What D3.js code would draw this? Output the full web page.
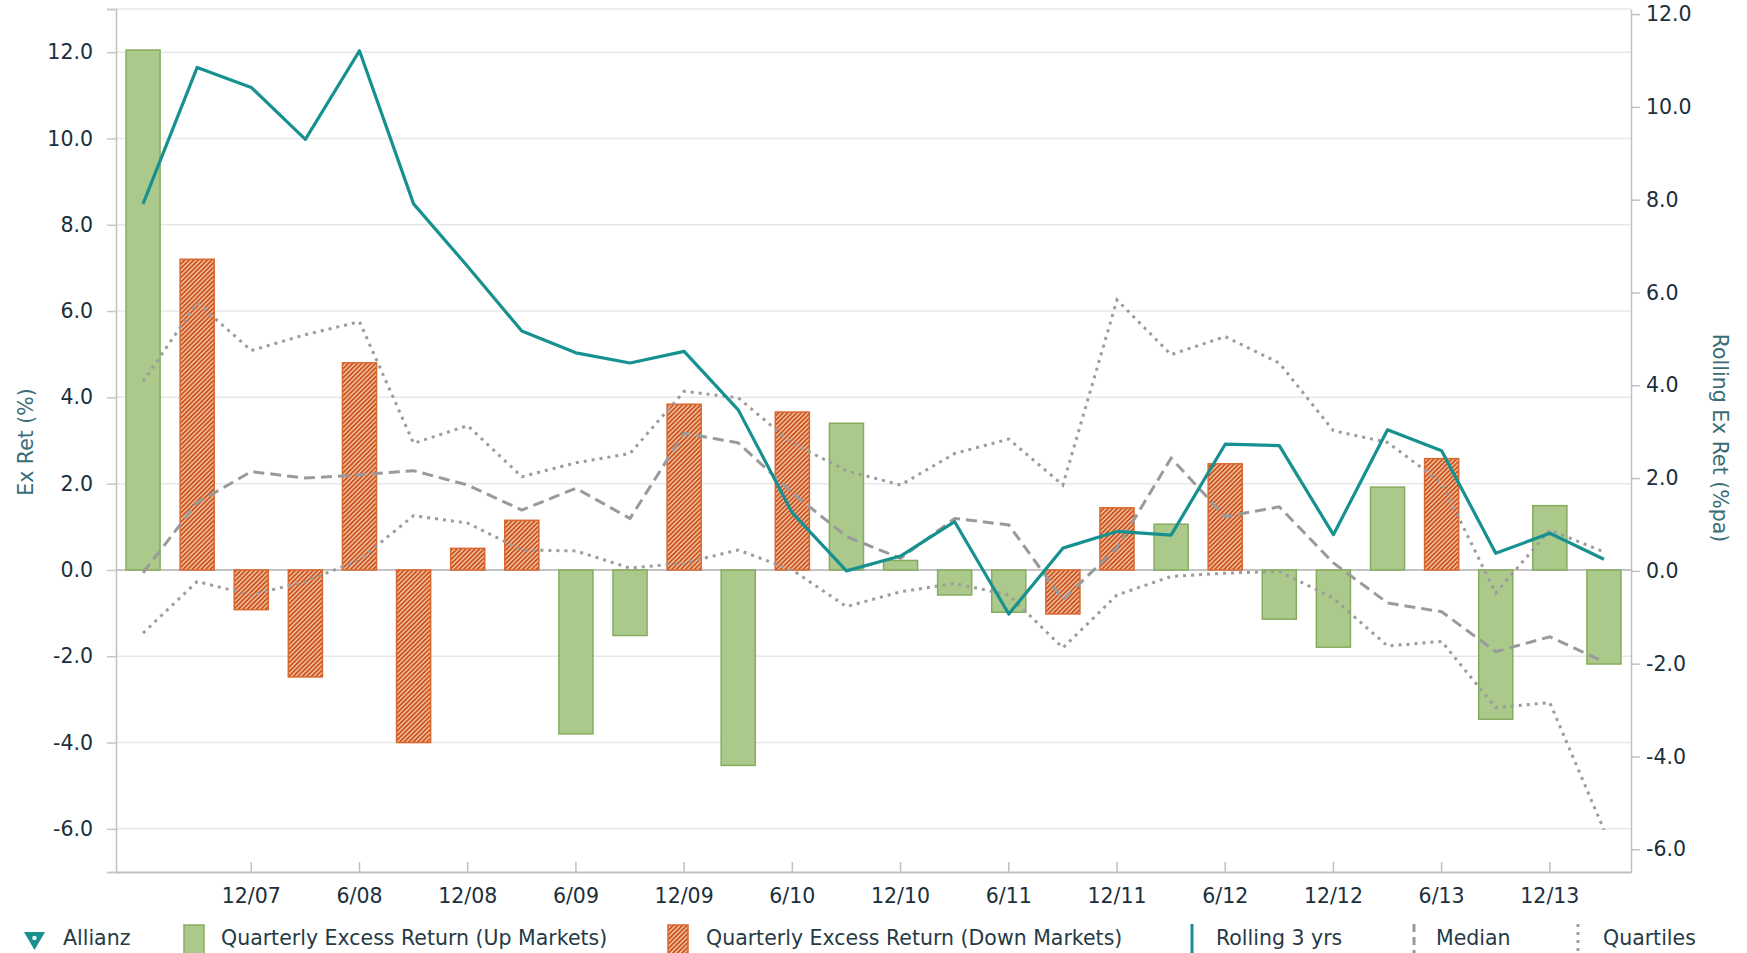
<!DOCTYPE html>
<html>
<head>
<meta charset="utf-8">
<script src="https://cdn.jsdelivr.net/npm/d3@7"></script>
<style>
  body { margin: 0; background: #fff; }
  text { font-family: "DejaVu Sans", Verdana, sans-serif; }
</style>
</head>
<body>
<div id="chart"></div>
<script>
// quarters shown on the x axis (only Dec / Jun get a label)
const quarters = ["6/07","9/07","12/07","3/08","6/08","9/08","12/08","3/09","6/09","9/09",
  "12/09","3/10","6/10","9/10","12/10","3/11","6/11","9/11","12/11","3/12",
  "6/12","9/12","12/12","3/13","6/13","9/13","12/13","3/14"];
const xTickLabels = ["12/07","6/08","12/08","6/09","12/09","6/10","12/10","6/11",
  "12/11","6/12","12/12","6/13","12/13"];

// quarterly excess return, left axis (null = not that kind of market)
const upMarkets = [12.05,null,null,null,null,null,null,null,-3.8,-1.52,
  null,-4.53,null,3.4,0.22,-0.58,-0.98,null,null,1.06,
  null,-1.14,-1.79,1.92,null,-3.46,1.49,-2.18];
const downMarkets = [null,7.2,-0.92,-2.48,4.8,-4.0,0.5,1.15,null,null,
  3.84,null,3.66,null,null,null,null,-1.02,1.44,null,
  2.46,null,null,null,2.58,null,null,null];

// rolling 3 yr figures, right axis
const rolling3y = [7.91,10.85,10.42,9.3,11.21,7.91,6.56,5.17,4.7,4.48,
  4.73,3.47,1.25,0.0,0.32,1.06,-0.93,0.49,0.85,0.77,
  2.73,2.7,0.78,3.04,2.59,0.38,0.81,0.25];
const median = [-0.04,1.47,2.14,2.0,2.07,2.16,1.85,1.31,1.78,1.13,
  2.97,2.76,1.68,0.74,0.27,1.13,0.99,-0.62,0.5,2.43,
  1.17,1.38,0.17,-0.69,-0.88,-1.74,-1.42,-1.96];
const upperQuartile = [4.08,5.78,4.75,5.09,5.37,2.75,3.13,2.03,2.33,2.53,
  3.87,3.73,2.75,2.16,1.85,2.53,2.84,1.85,5.84,4.66,
  5.05,4.48,3.02,2.77,1.9,-0.48,0.88,0.41];
const lowerQuartile = [-1.34,-0.23,-0.52,-0.23,0.24,1.19,1.03,0.45,0.43,0.06,
  0.17,0.45,0.02,-0.77,-0.45,-0.27,-0.52,-1.66,-0.52,-0.12,
  -0.05,-0.01,-0.59,-1.62,-1.52,-2.95,-2.84,-5.58];

const leftTicks = [-6,-4,-2,0,2,4,6,8,10,12];
const rightTicks = [-6,-4,-2,0,2,4,6,8,10,12];
const legendLabels = ["Allianz","Quarterly Excess Return (Up Markets)",
  "Quarterly Excess Return (Down Markets)","Rolling 3 yrs","Median","Quartiles"];

const W = 1747, H = 953;
const plotL = 116, plotR = 1631, plotT = 9, plotB = 872;
const fontSize = "20.5px";
const labelColor = "#1b2f3c";

// one decimal, plain hyphen for negatives like the original
const fmt = d => d3.format(".1f")(d).replace("\u2212", "-");

const svg = d3.select("#chart").append("svg")
  .attr("width", W).attr("height", H);

// hatch for the down market bars
const defs = svg.append("defs");
const hatch = defs.append("pattern")
  .attr("id", "hatch")
  .attr("patternUnits", "userSpaceOnUse")
  .attr("width", 3.2).attr("height", 3.2)
  .attr("patternTransform", "rotate(45)");
hatch.append("rect").attr("width", 3.2).attr("height", 3.2).attr("fill", "#f6c6a4");
hatch.append("rect").attr("width", 1.8).attr("height", 3.2).attr("fill", "#c9521f");

const x = d3.scaleBand()
  .domain(quarters)
  .range([plotL, plotR])
  .paddingInner(0.37)
  .paddingOuter(0.185);
const cx = d => x(d) + x.bandwidth() / 2;

const yL = d3.scaleLinear().domain([-7, 13]).range([plotB, plotT]);
const yR = d3.scaleLinear().domain([-6.49, 12.11]).range([plotB, plotT]);

// gridlines
svg.append("g").selectAll("line")
  .data(leftTicks.concat([13]))
  .enter().append("line")
  .attr("x1", plotL).attr("x2", plotR)
  .attr("y1", d => yL(d)).attr("y2", d => yL(d))
  .attr("stroke", d => d === 0 ? "#c4c4c4" : "#e8e8e8")
  .attr("stroke-width", d => d === 0 ? 2 : 1.5);

// left axis
const gL = svg.append("g")
  .attr("transform", "translate(" + plotL + ",0)")
  .call(d3.axisLeft(yL)
    .tickValues([-7].concat(leftTicks, [13]))
    .tickSize(9)
    .tickPadding(14)
    .tickFormat(d => (d === -7 || d === 13) ? "" : fmt(d)));
gL.select(".domain").attr("stroke", "#c0c0c0").attr("stroke-width", 1.5);
gL.selectAll(".tick line").attr("stroke", "#c8c8c8").attr("stroke-width", 1.5);
gL.selectAll(".tick text").attr("fill", labelColor).style("font-size", fontSize);

// right axis
const gR = svg.append("g")
  .attr("transform", "translate(" + plotR + ",0)")
  .call(d3.axisRight(yR)
    .tickValues(rightTicks)
    .tickSize(9)
    .tickSizeOuter(0)
    .tickPadding(6)
    .tickFormat(fmt));
gR.select(".domain").attr("stroke", "#c0c0c0").attr("stroke-width", 1.5);
gR.selectAll(".tick line").attr("stroke", "#c0c0c0").attr("stroke-width", 1.5);
gR.selectAll(".tick text").attr("fill", labelColor).style("font-size", fontSize);

// bottom axis, ticks point up into the plot
const gX = svg.append("g")
  .attr("transform", "translate(0," + plotB + ")")
  .call(d3.axisBottom(x)
    .tickValues(xTickLabels)
    .tickSize(-10)
    .tickSizeOuter(0)
    .tickPadding(16));
gX.select(".domain").attr("stroke", "#c0c0c0").attr("stroke-width", 2);
gX.selectAll(".tick line").attr("stroke", "#c0c0c0").attr("stroke-width", 1.5);
gX.selectAll(".tick text").attr("fill", labelColor).style("font-size", fontSize);

// bars
svg.append("g").selectAll("rect")
  .data(quarters.map((q, i) => ({q: q, v: upMarkets[i]})).filter(d => d.v !== null))
  .enter().append("rect")
  .attr("x", d => x(d.q))
  .attr("width", x.bandwidth())
  .attr("y", d => yL(Math.max(0, d.v)))
  .attr("height", d => Math.abs(yL(d.v) - yL(0)))
  .attr("fill", "#abc98b")
  .attr("stroke", "#86ac5f")
  .attr("stroke-width", 1.5);

svg.append("g").selectAll("rect")
  .data(quarters.map((q, i) => ({q: q, v: downMarkets[i]})).filter(d => d.v !== null))
  .enter().append("rect")
  .attr("x", d => x(d.q))
  .attr("width", x.bandwidth())
  .attr("y", d => yL(Math.max(0, d.v)))
  .attr("height", d => Math.abs(yL(d.v) - yL(0)))
  .attr("fill", "url(#hatch)")
  .attr("stroke", "#d9682f")
  .attr("stroke-width", 1.5);

// lines on the right axis
const line = d3.line()
  .x((d, i) => cx(quarters[i]))
  .y(d => yR(d));

svg.append("path").datum(upperQuartile)
  .attr("d", line).attr("fill", "none")
  .attr("stroke", "#9c9c9c").attr("stroke-width", 3)
  .attr("stroke-dasharray", "3,5");
svg.append("path").datum(lowerQuartile)
  .attr("d", line).attr("fill", "none")
  .attr("stroke", "#9c9c9c").attr("stroke-width", 3)
  .attr("stroke-dasharray", "3,5");
svg.append("path").datum(median)
  .attr("d", line).attr("fill", "none")
  .attr("stroke", "#9a9a9a").attr("stroke-width", 3)
  .attr("stroke-dasharray", "11,6");
svg.append("path").datum(rolling3y)
  .attr("d", line).attr("fill", "none")
  .attr("stroke", "#16918f").attr("stroke-width", 3.2)
  .attr("stroke-linejoin", "round");

// axis titles
svg.append("text")
  .attr("transform", "translate(33,442) rotate(-90)")
  .attr("text-anchor", "middle")
  .attr("fill", "#3a6d77")
  .style("font-size", fontSize)
  .text("Ex Ret (%)");
svg.append("text")
  .attr("transform", "translate(1713,438) rotate(90)")
  .attr("text-anchor", "middle")
  .attr("fill", "#3a6d77")
  .style("font-size", fontSize)
  .text("Rolling Ex Ret (%pa)");

// legend
const legendX = [63, 221, 706, 1216, 1436, 1603];
const leg = svg.append("g");
leg.selectAll("text")
  .data(legendLabels)
  .enter().append("text")
  .attr("x", (d, i) => legendX[i])
  .attr("y", 945)
  .attr("fill", "#263a45")
  .style("font-size", fontSize)
  .text(d => d);

leg.append("path")
  .attr("d", "M24,932 L45,932 L34.5,950 Z")
  .attr("fill", "#178f8c");
leg.append("circle").attr("cx", 34.5).attr("cy", 938).attr("r", 2.3).attr("fill", "#e8f4f3");
leg.append("rect").attr("x", 184).attr("y", 925).attr("width", 20).attr("height", 32)
  .attr("fill", "#abc98b").attr("stroke", "#86ac5f").attr("stroke-width", 1.5);
leg.append("rect").attr("x", 668).attr("y", 925).attr("width", 20).attr("height", 32)
  .attr("fill", "url(#hatch)").attr("stroke", "#d9682f").attr("stroke-width", 1.5);
leg.append("line").attr("x1", 1192).attr("x2", 1192).attr("y1", 924).attr("y2", 953)
  .attr("stroke", "#16918f").attr("stroke-width", 3);
leg.append("line").attr("x1", 1414).attr("x2", 1414).attr("y1", 924).attr("y2", 953)
  .attr("stroke", "#9a9a9a").attr("stroke-width", 3).attr("stroke-dasharray", "8,5");
leg.append("line").attr("x1", 1578).attr("x2", 1578).attr("y1", 924).attr("y2", 953)
  .attr("stroke", "#9c9c9c").attr("stroke-width", 3).attr("stroke-dasharray", "3,5");
</script>
</body>
</html>
